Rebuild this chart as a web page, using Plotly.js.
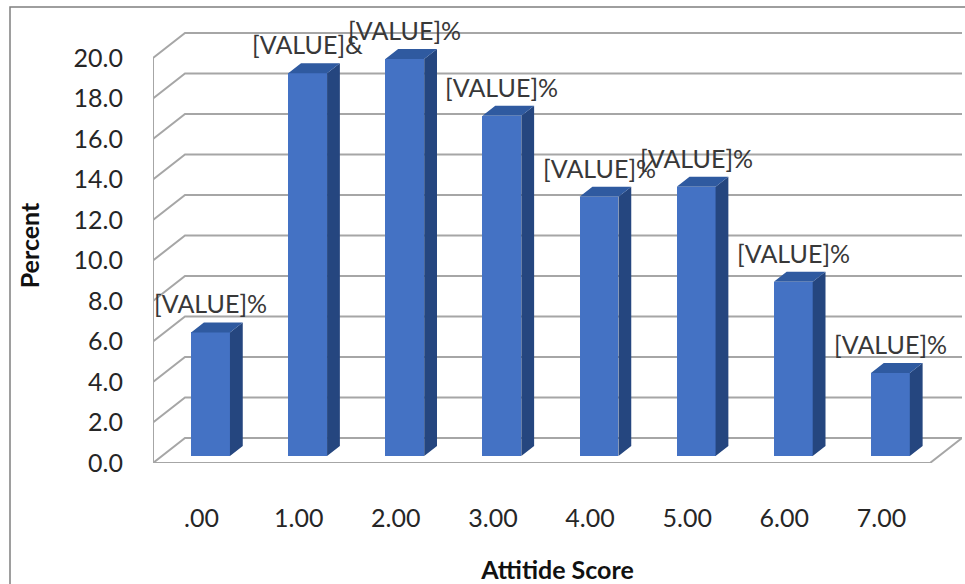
<!DOCTYPE html>
<html>
<head>
<meta charset="utf-8">
<script src="https://cdn.plot.ly/plotly-3.0.1.min.js"></script>
<style>
html,body{margin:0;padding:0;background:#fff;}
#chart{width:965px;height:584px;}
</style>
</head>
<body>
<div id="chart"></div>
<script>
// ---- data ----
const categories = ['.00', '1.00', '2.00', '3.00', '4.00', '5.00', '6.00', '7.00'];
const percents = [6.1, 18.9, 19.6, 16.8, 12.8, 13.3, 8.6, 4.1];
const labelTexts = ['[VALUE]%', '[VALUE]&', '[VALUE]%', '[VALUE]%', '[VALUE]%', '[VALUE]%', '[VALUE]%', '[VALUE]%'];
const yTicks = [0, 2, 4, 6, 8, 10, 12, 14, 16, 18, 20];
const xTitle = 'Attitide Score';
const yTitle = 'Percent';

// ---- 3D-look geometry (oblique projection in data units) ----
const W = 965, H = 584;
const mL = 153, mR = 3, mT = 28, mB = 121;
const plotW = W - mL - mR, plotH = H - mT - mB;
const n = categories.length;
const depthPx = [32, 25];
const pxPerX = (plotW - depthPx[0]) / n;
const yMax = 21.48;
const pxPerY = plotH / yMax;
const DX = depthPx[0] / pxPerX;      // full depth offset, x units
const DY = depthPx[1] / pxPerY;      // full depth offset, y units
const t0 = 0.28, t1 = 0.68;          // bar front/back depth fractions
const barW = 0.4;
const xLo = -0.5, xHi = n - 0.5;

const traces = [];
const gridColor = '#a6a6a6';

// gridlines (drawn as a path below the traces): left wall diagonal + back wall horizontal
let path = '';
yTicks.forEach(v => {
  path += `M${xLo},${v} L${xLo + DX},${v + DY} L${xHi + DX},${v + DY} `;
});
path += `M${xLo},0 L${xLo},${yTicks[yTicks.length - 1]} `;
path += `M${xLo},0 L${xHi},0 L${xHi + DX},${DY}`;

// bar front faces
const cx = categories.map((c, i) => i + t0 * DX);
const base0 = t0 * DY;
traces.push({type: 'bar', x: cx, y: percents, base: categories.map(() => base0), width: barW,
  marker: {color: '#4472C4', line: {width: 0}}, hoverinfo: 'skip', showlegend: false});

// side & top faces
const ddx = (t1 - t0) * DX, ddy = (t1 - t0) * DY;
let sx = [], sy = [], tx = [], ty = [];
percents.forEach((v, i) => {
  const r = cx[i] + barW / 2, l = cx[i] - barW / 2, top = base0 + v;
  sx.push(r, r, r + ddx, r + ddx, r, null);
  sy.push(base0, top, top + ddy, base0 + ddy, base0, null);
  tx.push(l, r, r + ddx, l + ddx, l, null);
  ty.push(top, top, top + ddy, top + ddy, top, null);
});
traces.push({type: 'scatter', mode: 'lines', x: sx, y: sy, fill: 'toself', fillcolor: '#25467F',
  line: {width: 0, color: '#25467F'}, hoverinfo: 'skip', showlegend: false});
traces.push({type: 'scatter', mode: 'lines', x: tx, y: ty, fill: 'toself', fillcolor: '#2F5AA0',
  line: {width: 0, color: '#2F5AA0'}, hoverinfo: 'skip', showlegend: false});

const font = 'Lato, "Open Sans", sans-serif';
const annotations = percents.map((v, i) => ({
  x: cx[i], y: base0 + v, xref: 'x', yref: 'y', text: labelTexts[i], showarrow: false,
  xanchor: 'center', yanchor: 'middle', yshift: 29,
  font: {family: font, size: 25, color: '#383838'}
}));

const toPX = px => (px - mL) / plotW;
const toPY = py => (H - mB - py) / plotH;

const layout = {
  width: W, height: H,
  margin: {l: mL, r: mR, t: mT, b: mB, pad: 0},
  paper_bgcolor: '#fff', plot_bgcolor: 'rgba(0,0,0,0)',
  showlegend: false,
  font: {family: font, color: '#262626'},
  xaxis: {range: [xLo, xHi + DX], tickvals: categories.map((c, i) => i), ticktext: categories,
    showgrid: false, zeroline: false, showline: false, ticks: '', ticklabelstandoff: 38,
    tickfont: {size: 25, family: font, color: '#262626'},
    title: {text: xTitle, font: {size: 25, family: font, color: '#111'}, standoff: 30},
    fixedrange: true},
  yaxis: {range: [0, yMax], tickvals: yTicks, tickformat: '.1f',
    showgrid: false, zeroline: false, showline: false, ticks: '', ticklabelstandoff: 29,
    tickfont: {size: 25, family: font, color: '#262626'},
    title: {text: yTitle, font: {size: 25, family: font, color: '#111'}, standoff: 26},
    fixedrange: true},
  annotations: annotations,
  shapes: [
    {type: 'path', xref: 'x', yref: 'y', path: path, layer: 'below',
      line: {color: gridColor, width: 2}},
    {type: 'rect', xref: 'paper', yref: 'paper',
      x0: toPX(10), x1: toPX(975), y0: toPY(600), y1: toPY(7),
      line: {color: '#7f7f7f', width: 1.5}, fillcolor: 'rgba(0,0,0,0)', layer: 'below'}],
  bargap: 0
};

Plotly.newPlot('chart', traces, layout, {displayModeBar: false, staticPlot: true}).then(() => {
  document.querySelectorAll('.xtitle, .ytitle').forEach(el => el.style.fontWeight = 'bold');
});
</script>
</body>
</html>
